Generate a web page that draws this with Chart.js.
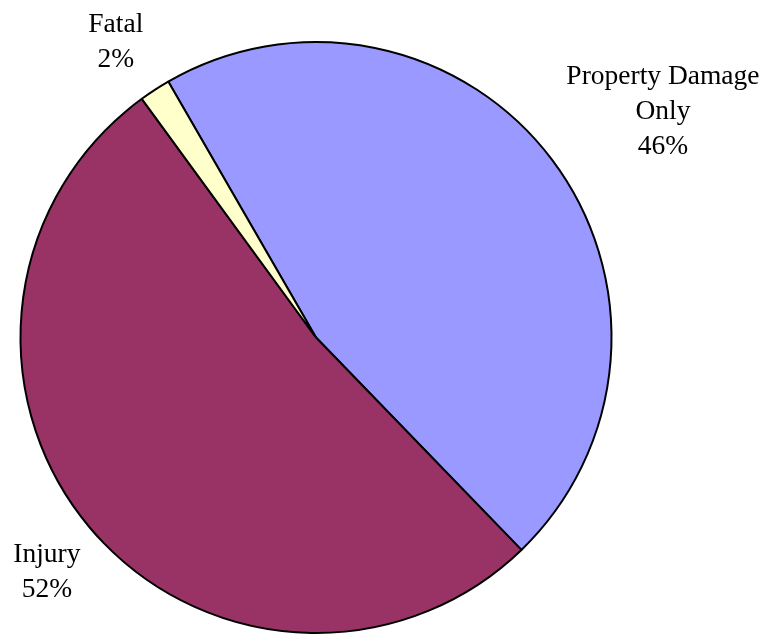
<!DOCTYPE html>
<html>
<head>
<meta charset="utf-8">
<script src="https://cdn.jsdelivr.net/npm/chart.js@4/dist/chart.umd.min.js"></script>
<style>
  body { margin: 0; background: #fff; }
  #chart1 { display: block; }
</style>
</head>
<body>
<canvas id="chart1" width="771" height="635"></canvas>
<script>
  // crash severity shares
  let categories = ['Property Damage Only', 'Injury', 'Fatal'];
  let shares = [46.1, 52.2, 1.7];
  let labelLines = [['Property Damage', 'Only', '46%'], ['Injury', '52%'], ['Fatal', '2%']];
  let sliceColors = ['#9999FF', '#993366', '#FFFFCC'];

  // where each label sits, relative to the middle of its slice's outer edge
  let labelShift = [[111, -76], [-43, 34], [-39, -58]];

  let outsideLabels = {
    id: 'outsideLabels',
    afterDraw(chart) {
      let ctx = chart.ctx;
      let arcs = chart.getDatasetMeta(0).data;
      ctx.save();
      ctx.fillStyle = '#000';
      ctx.font = '27.5px "Liberation Serif", "Times New Roman", serif';
      ctx.textAlign = 'center';
      ctx.textBaseline = 'alphabetic';
      for (let i = 0; i < arcs.length; i++) {
        let a = arcs[i];
        let mid = (a.startAngle + a.endAngle) / 2;
        let x = a.x + Math.cos(mid) * a.outerRadius + labelShift[i][0];
        let y = a.y + Math.sin(mid) * a.outerRadius + labelShift[i][1];
        let lines = labelLines[i];
        for (let l = 0; l < lines.length; l++) {
          ctx.fillText(lines[l], x, y + l * 35);
        }
      }
      ctx.restore();
    }
  };

  let ctx = document.getElementById('chart1').getContext('2d');
  new Chart(ctx, {
    type: 'pie',
    data: {
      labels: categories,
      datasets: [{
        data: shares,
        backgroundColor: sliceColors,
        borderColor: '#000',
        borderWidth: 2
      }]
    },
    options: {
      responsive: false,
      animation: false,
      rotation: -30,
      layout: { padding: { left: 19, top: 41, right: 158, bottom: 1 } },
      plugins: {
        legend: { display: false },
        tooltip: { enabled: false }
      }
    },
    plugins: [outsideLabels]
  });
</script>
</body>
</html>
